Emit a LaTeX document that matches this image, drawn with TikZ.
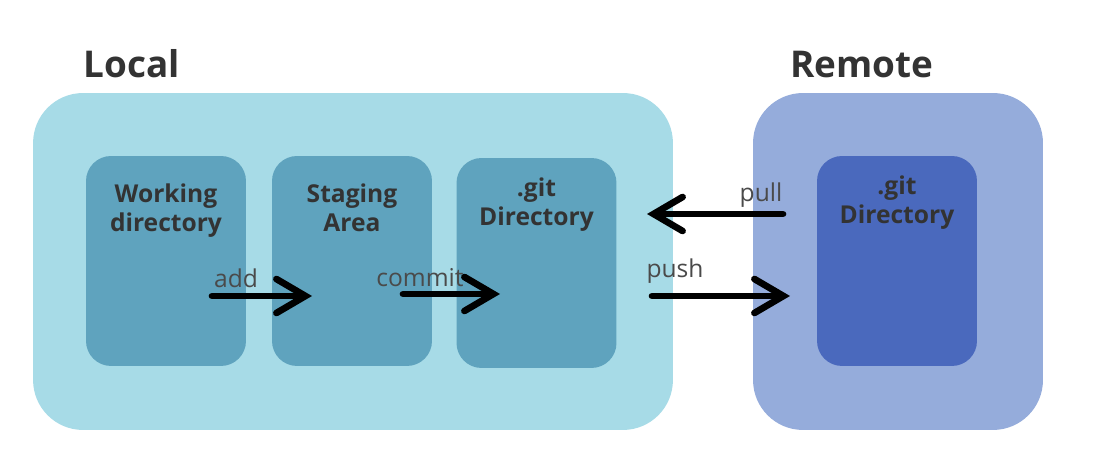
\documentclass[tikz,border=0pt]{standalone}
\usepackage{fontspec}
\setsansfont{Open Sans}
\usetikzlibrary{arrows.meta}
\definecolor{localbg}{HTML}{A7DBE7}
\definecolor{localin}{HTML}{5FA3BE}
\definecolor{remotebg}{HTML}{95ACDB}
\definecolor{remotein}{HTML}{4A69BD}
\definecolor{txtgray}{HTML}{333333}
\definecolor{lblgray}{HTML}{4A4A4A}
\begin{document}
\begin{tikzpicture}[
  x=0.02cm, y=-0.02cm,
  font=\sffamily,
  outer/.style={rounded corners=1cm, minimum height=6.74cm, inner sep=0pt},
  inner/.style={rounded corners=0.5cm, minimum width=3.2cm, minimum height=4.2cm, inner sep=0pt},
  title/.style={font=\sffamily\bfseries\fontsize{21}{25}\selectfont, text=txtgray, anchor=base west, inner sep=0pt},
  boxtext/.style={font=\sffamily\bfseries\fontsize{14}{16.5}\selectfont, text=txtgray, align=center, anchor=north, inner sep=0pt},
  lbl/.style={font=\sffamily\fontsize{14}{16}\selectfont, text=lblgray, inner sep=0pt},
  flow/.style={line width=3.8pt, line cap=round, line join=round, -{Straight Barb[length=5.8mm, width=6.8mm, line cap=round]}}
]
\useasboundingbox (0,0) rectangle (1099,475);
\node[outer, fill=localbg, minimum width=12.8cm] (local) at (353,261.5) {};
\node[outer, fill=remotebg, minimum width=5.8cm] (remote) at (898,261.5) {};
\node[title] (localT) at (83,78) {Local};
\node[title] (remoteT) at (790,78) {Remote};
\node[inner, fill=localin] (work) at (166,261) {};
\node[inner, fill=localin] (stage) at (352,261) {};
\node[inner, fill=localin] (gitL) at (536.5,263) {};
\node[inner, fill=remotein] (gitR) at (897,261) {};
\node[boxtext] (workT) at (166,183) {Working\\directory};
\node[boxtext] (stageT) at (352,183) {Staging\\Area};
\node[boxtext] (gitLT) at (536.5,177) {.git\\Directory};
\node[boxtext] (gitRT) at (897,175) {.git\\Directory};
\coordinate (addS) at (212,296);
\coordinate (addE) at (312,296);
\coordinate (comS) at (403,294);
\coordinate (comE) at (500,294);
\coordinate (pullS) at (783,214);
\coordinate (pullE) at (647,214);
\coordinate (pushS) at (652,296);
\coordinate (pushE) at (790,296);
\draw[flow] (addS) -- (addE);
\draw[flow] (comS) -- (comE);
\draw[flow] (pullS) -- (pullE);
\draw[flow] (pushS) -- (pushE);
\node[lbl] (addL) at (236,278) {add};
\node[lbl] (comL) at (420,278) {commit};
\node[lbl] (pullL) at (761,195) {pull};
\node[lbl] (pushL) at (675,271) {push};
\end{tikzpicture}
\end{document}
